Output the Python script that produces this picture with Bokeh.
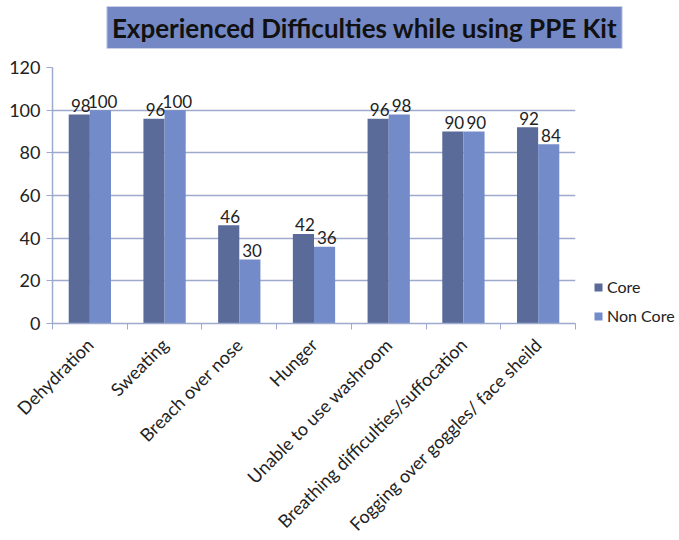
from bokeh.plotting import figure
from bokeh.models import (ColumnDataSource, Range1d, FixedTicker, Label, Legend,
                          LegendItem)
from bokeh.transform import dodge
from bokeh.core.properties import value
from bokeh.embed import file_html
from bokeh.resources import INLINE

categories = ["Dehydration", "Sweating", "Breach over nose", "Hunger",
              "Unable to use washroom", "Breathing difficulties/suffocation",
              "Fogging over goggles/ face sheild"]
core = [98, 96, 46, 42, 96, 90, 92]
non_core = [100, 100, 30, 36, 98, 90, 84]
y_ticks = [0, 20, 40, 60, 80, 100, 120]
title_text = "Experienced Difficulties while using PPE Kit"

FONT = "Lato"
CORE_C = "#5A6B9A"
NON_C = "#738BC8"
GRID_C = "#9EA9CE"
TEXT_C = "#222222"

pos = [i + 0.5 for i in range(len(categories))]
src = ColumnDataSource(dict(x=pos, core=core, non_core=non_core,
                            core_t=[str(v) for v in core],
                            non_t=[str(v) for v in non_core]))

p = figure(frame_width=523, frame_height=256, output_backend="svg",
           toolbar_location=None, x_range=Range1d(0, len(categories)),
           y_range=Range1d(0, 120),
           min_border_left=52, min_border_right=104, min_border_top=67,
           min_border_bottom=209)
p.outline_line_color = None
p.background_fill_color = "white"
p.border_fill_color = "white"

w = 0.283
r1 = p.vbar(x=dodge("x", -w / 2, range=p.x_range), top="core", width=w,
            source=src, fill_color=CORE_C, line_color=None)
r2 = p.vbar(x=dodge("x", w / 2, range=p.x_range), top="non_core", width=w,
            source=src, fill_color=NON_C, line_color=None)

p.text(x=dodge("x", -w / 2 + 0.02, range=p.x_range), y="core", text="core_t",
       source=src, text_align="center", text_baseline="alphabetic", y_offset=-9,
       text_font=value(FONT), text_font_size="17px", text_color=TEXT_C)
p.text(x=dodge("x", w / 2 + 0.03, range=p.x_range), y="non_core", text="non_t",
       source=src, text_align="center", text_baseline="alphabetic", y_offset=-9,
       text_font=value(FONT), text_font_size="17px", text_color=TEXT_C)

# x axis
xa = p.xaxis[0]
xa.ticker = FixedTicker(ticks=pos, minor_ticks=list(range(len(categories) + 1)))
xa.major_label_overrides = {x: c for x, c in zip(pos, categories)}
xa.major_tick_line_color = None
xa.minor_tick_in = 0
xa.minor_tick_out = 6
xa.minor_tick_line_color = GRID_C
xa.axis_line_color = GRID_C
xa.axis_line_width = 1.5
xa.major_label_orientation = 0.785398
xa.major_label_text_font = FONT
xa.major_label_text_font_size = "18px"
xa.major_label_text_color = TEXT_C
xa.major_label_standoff = 12

ya = p.yaxis[0]
ya.ticker = FixedTicker(ticks=y_ticks)
ya.minor_tick_line_color = None
ya.major_tick_in = 0
ya.major_tick_out = 6
ya.major_tick_line_color = GRID_C
ya.axis_line_color = GRID_C
ya.axis_line_width = 1.5
ya.major_label_text_font = FONT
ya.major_label_text_font_size = "18px"
ya.major_label_text_color = TEXT_C
ya.major_label_standoff = 6

p.xgrid.grid_line_color = None
p.ygrid.grid_line_color = GRID_C
p.ygrid.grid_line_width = 1.5

title = Label(x=312, y=40, x_units="screen", y_units="screen", text=title_text,
              text_align="center", text_baseline="middle", text_font=FONT,
              text_font_style="bold", text_font_size="26px", text_color="#111111",
              background_fill_color="#7388C4", border_line_color="#C9D0E6",
              border_line_width=1, padding=5)
p.add_layout(title, "above")

legend = Legend(items=[LegendItem(label="Core", renderers=[r1]),
                       LegendItem(label="Non Core", renderers=[r2])],
                location=(18, -2), orientation="vertical",
                glyph_width=10, glyph_height=10, label_height=14, spacing=10,
                padding=0, margin=0, label_standoff=4,
                label_text_font=FONT, label_text_font_size="16px",
                label_text_color=TEXT_C, border_line_color=None,
                background_fill_alpha=0)
p.add_layout(legend, "right")

open("out.html", "w").write(file_html(p, INLINE))
